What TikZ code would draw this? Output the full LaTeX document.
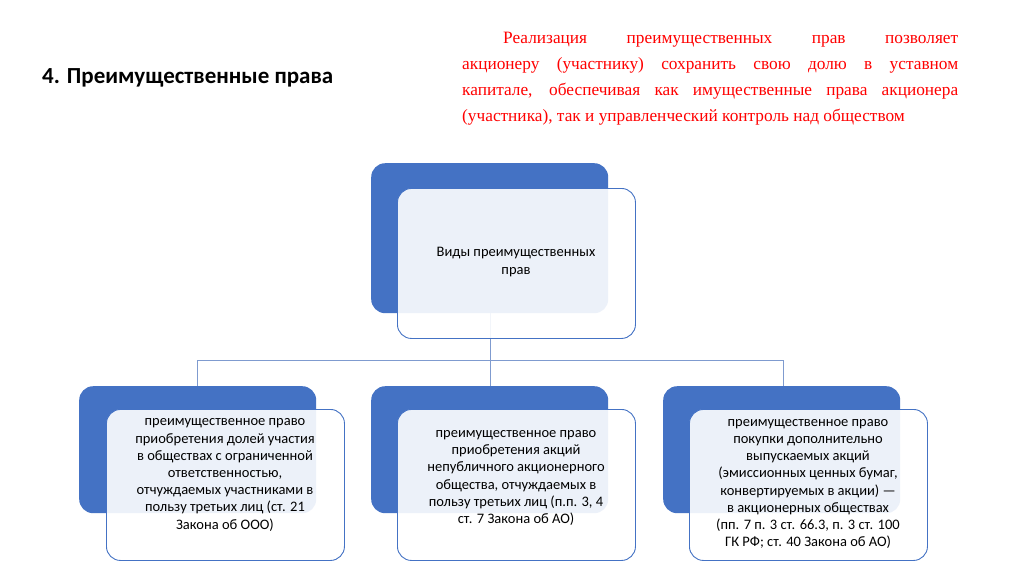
\documentclass[tikz,border=0pt]{standalone}
\usepackage{fontspec}
\setmainfont{Carlito}
\newfontfamily\serifred{Liberation Serif}
\begin{document}
\begin{tikzpicture}[x=1pt,y=-1pt,
 back/.style={fill=blueA,rounded corners=14pt,minimum width=237pt,minimum height=150pt,anchor=north west,inner sep=0},
 front/.style={draw=blueA,line width=0.9pt,fill=white,fill opacity=0.9,text opacity=1,rounded corners=14pt,minimum width=238pt,minimum height=150pt,anchor=north west,inner sep=0},
 lbl/.style={font=\fontsize{14.5}{17.2}\selectfont,align=center},
 conn/.style={draw=blueB,line width=0.9pt}]
\definecolor{blueA}{HTML}{4472C4}
\definecolor{blueB}{HTML}{7F9BCF}
\useasboundingbox[fill=white] (0,0) rectangle (1024,576);
\node[anchor=west,inner sep=0,font=\bfseries\fontsize{23}{26}\selectfont] (title) at (42,78) {4. Преимущественные права};
\node[anchor=north west,inner sep=0,text width=496pt,align=justify,text=red,font=\serifred\fontsize{17.3}{26}\selectfont] (red) at (462,32)
{\hspace*{41pt}Реализация преимущественных прав позволяет\linebreak акционеру (участнику) сохранить свою долю в уставном\linebreak капитале, обеспечивая как имущественные права акционера\linebreak (участника), так и управленческий контроль над обществом};
% top
\node[back] (tb) at (371,163) {};
\coordinate (hj) at (490,360);
\draw[conn] (tb.south -| hj) -- (hj);
\node[front] (tf) at (397,188) {};
\node[lbl] (tt) at (516,262) {Виды преимущественных\\прав};
% bottom
\node[back,minimum height=127pt] (b1) at (79,386) {};
\node[back,minimum height=127pt] (b2) at (371,386) {};
\node[back,minimum height=127pt] (b3) at (663,386) {};
\coordinate (h1) at (197,360); \coordinate (h3) at (783,360);
\draw[conn] (h1) -- (h3);
\draw[conn] (h1) -- (b1.north -| h1);
\draw[conn] (hj) -- (b2.north -| hj);
\draw[conn] (h3) -- (b3.north -| h3);
\node[front,minimum height=151pt] (f1) at (106,409) {};
\node[front,minimum height=151pt] (f2) at (397,409) {};
\node[front,minimum height=151pt] (f3) at (689,409) {};
\node[lbl] (t1) at (225,475) {преимущественное право\\приобретения долей участия\\в обществах с ограниченной\\ответственностью,\\отчуждаемых участниками в\\пользу третьих лиц (ст. 21\\Закона об ООО)};
\node[lbl] (t2) at (516,478) {преимущественное право\\приобретения акций\\непубличного акционерного\\общества, отчуждаемых в\\пользу третьих лиц (п.п. 3, 4\\ст. 7 Закона об АО)};
\node[lbl] (t3) at (808,484) {преимущественное право\\покупки дополнительно\\выпускаемых акций\\(эмиссионных ценных бумаг,\\конвертируемых в акции) —\\в акционерных обществах\\(пп. 7 п. 3 ст. 66.3, п. 3 ст. 100\\ГК РФ; ст. 40 Закона об АО)};
\end{tikzpicture}
\end{document}
